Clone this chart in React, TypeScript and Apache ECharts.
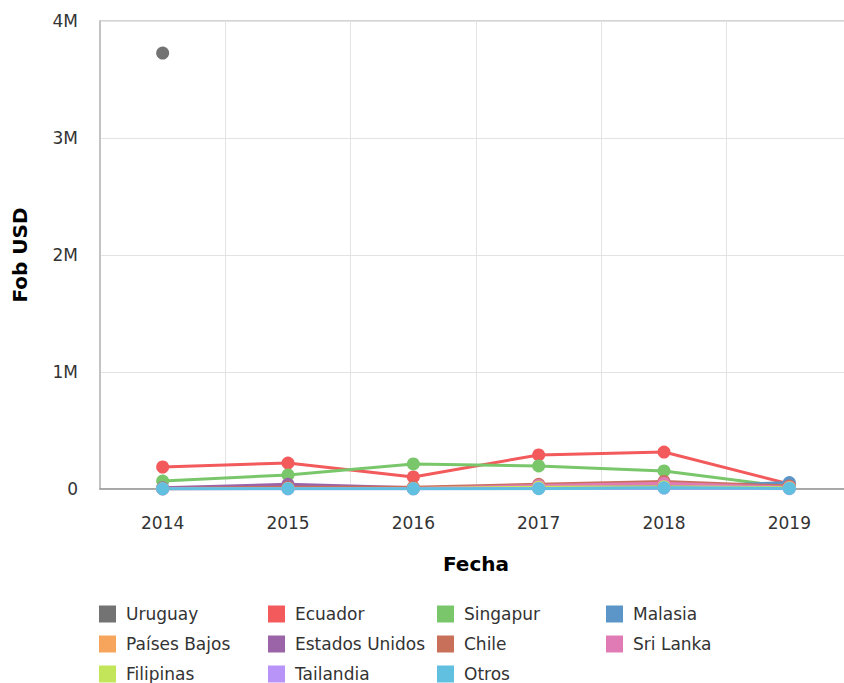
import React, { useEffect, useRef } from "react";
import * as echarts from "echarts";

const years = ["2014", "2015", "2016", "2017", "2018", "2019"];
const seriesNames = [
  "Uruguay", "Ecuador", "Singapur", "Malasia", "Países Bajos", "Estados Unidos",
  "Chile", "Sri Lanka", "Filipinas", "Tailandia", "Otros",
];
const colors = [
  "#737373", "#f25a5c", "#79c66b", "#5c96c8", "#f7a45d", "#9b64a8",
  "#c9705a", "#e07bb5", "#c3e55a", "#b894f9", "#61c0df",
];
const uruguay = [3726000, null, null, null, null, null];
const ecuador = [188000, 222000, 103000, 291000, 316000, 43000];
const singapur = [68000, 120000, 214000, 197000, 154000, 17000];
const malasia = [5000, 8000, 4000, 12000, 20000, 55000];
const paisesBajos = [3000, 10000, 8000, 30000, 40000, 20000];
const estadosUnidos = [10000, 40000, 10000, 15000, 25000, 20000];
const chile = [5000, 15000, 15000, 40000, 65000, 25000];
const sriLanka = [2000, 5000, 5000, 30000, 50000, 15000];
const filipinas = [3000, 5000, 5000, 15000, 20000, 10000];
const tailandia = [1000, 2000, 2000, 5000, 8000, 3000];
const otros = [2000, 3000, 2000, 3000, 10000, 5000];
const yTicks = ["0", "1M", "2M", "3M", "4M"];

const allData = [
  uruguay, ecuador, singapur, malasia, paisesBajos, estadosUnidos,
  chile, sriLanka, filipinas, tailandia, otros,
];

const FONT = "DejaVu Sans, Verdana, sans-serif";

export default function App() {
  const ref = useRef<HTMLDivElement>(null);
  useEffect(() => {
    if (!ref.current) return;
    const chart = echarts.init(ref.current, undefined, { renderer: "svg" });
    chart.setOption({
      animation: false,
      color: colors,
      textStyle: { fontFamily: FONT },
      grid: {
        left: 100, top: 21, bottom: 194, right: 0,
        show: true, borderColor: "#c8c8c8", borderWidth: 1.5, backgroundColor: "transparent",
      },
      legend: {
        left: 99,
        top: 599,
        width: 700,
        padding: 0,
        itemGap: 0,
        itemWidth: 17,
        itemHeight: 17,
        icon: "rect",
        data: seriesNames,
        textStyle: {
          fontFamily: FONT,
          fontSize: 17,
          color: "#333",
          width: 142,
          lineHeight: 30,
          padding: [0, 0, 0, 5],
        },
      },
      xAxis: {
        type: "category",
        data: years,
        boundaryGap: true,
        name: "Fecha",
        nameLocation: "middle",
        nameGap: 65,
        nameTextStyle: { fontFamily: FONT, fontSize: 20, fontWeight: "bold", color: "#000" },
        axisLine: { lineStyle: { color: "#999", width: 1.5 } },
        axisTick: { show: false },
        axisLabel: { fontFamily: FONT, fontSize: 17, color: "#333", margin: 25 },
        splitLine: { show: true, lineStyle: { color: "#e3e3e3" } },
      },
      yAxis: {
        type: "value",
        min: 0,
        max: 4000000,
        interval: 1000000,
        name: "Fob USD",
        nameLocation: "middle",
        nameGap: 70,
        nameTextStyle: { fontFamily: FONT, fontSize: 20, fontWeight: "bold", color: "#000" },
        axisLine: { show: true, lineStyle: { color: "#bbb", width: 1.5 } },
        axisTick: { show: false },
        axisLabel: {
          fontFamily: FONT,
          fontSize: 17,
          color: "#333",
          margin: 22,
          formatter: (v: number) => yTicks[Math.round(v / 1000000)],
        },
        splitLine: { show: true, lineStyle: { color: "#e3e3e3" } },
      },
      series: seriesNames.map((name, i) => ({
        name,
        type: "line",
        data: allData[i],
        symbol: "circle",
        symbolSize: 13,
        showSymbol: true,
        lineStyle: { width: 3 },
        emphasis: { disabled: true },
      })),
    });
    return () => chart.dispose();
  }, []);
  return (
    <div
      ref={ref}
      style={{ position: "fixed", left: 0, top: 0, width: 852, height: 683, background: "#fff" }}
    />
  );
}
